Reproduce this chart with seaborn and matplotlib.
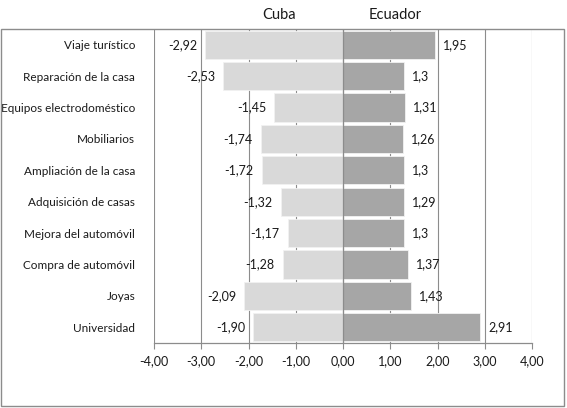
import pandas as pd
import seaborn as sns
import matplotlib.pyplot as plt
from matplotlib.patches import Rectangle

# Data
categorias = [
    "Viaje turístico",
    "Reparación de la casa",
    "Equipos electrodoméstico",
    "Mobiliarios",
    "Ampliación de la casa",
    "Adquisición de casas",
    "Mejora del automóvil",
    "Compra de automóvil",
    "Joyas",
    "Universidad",
]
cuba = [-2.92, -2.53, -1.45, -1.74, -1.72, -1.32, -1.17, -1.28, -2.09, -1.90]
ecuador = [1.95, 1.3, 1.31, 1.26, 1.3, 1.29, 1.3, 1.37, 1.43, 2.91]
ticks_x = [-4, -3, -2, -1, 0, 1, 2, 3, 4]

df = pd.DataFrame({
    "categoria": categorias * 2,
    "valor": cuba + ecuador,
    "pais": ["Cuba"] * len(cuba) + ["Ecuador"] * len(ecuador),
})

sns.set_style("white")
plt.rcParams["font.family"] = ["Lato", "DejaVu Sans"]
plt.rcParams["text.color"] = "#1a1a1a"

fig = plt.figure(figsize=(5.67, 4.08), dpi=100)
ax = fig.add_axes([154 / 567, 65 / 408, 378 / 567, 314 / 408])

sns.barplot(data=df, x="valor", y="categoria", hue="pais", dodge=False,
            palette={"Cuba": "#d9d9d9", "Ecuador": "#a6a6a6"},
            width=0.9, edgecolor="#f2f2f2", linewidth=0.6,
            order=categorias, legend=False, ax=ax, zorder=2)

ax.set_xlim(-4, 4)
ax.set_ylim(9.5, -0.5)
ax.set_xticks(ticks_x)
ax.set_xticklabels([f"{t:.2f}".replace(".", ",") for t in ticks_x])
ax.grid(axis="x", color="#8c8c8c", linewidth=0.8)
ax.set_axisbelow(True)
ax.axvline(0, color="#8c8c8c", linewidth=0.9, zorder=3)
ax.set_xlabel("")
ax.set_ylabel("")

for s in ["top", "right", "left"]:
    ax.spines[s].set_visible(False)
ax.spines["bottom"].set_color("#8c8c8c")
ax.spines["bottom"].set_linewidth(0.9)
ax.tick_params(axis="x", bottom=True, length=4, width=0.8, color="#8c8c8c",
               labelsize=9, pad=5, labelcolor="#1a1a1a")
ax.tick_params(axis="y", left=False, labelsize=8.5, pad=10, labelcolor="#1a1a1a")

# value labels
for i, v in enumerate(cuba):
    ax.annotate(f"{v:.2f}".replace(".", ","), (v, i), xytext=(-8, 0),
                textcoords="offset pixels", ha="right", va="center", fontsize=9)
for i, v in enumerate(ecuador):
    ax.annotate(f"{v:g}".replace(".", ","), (v, i), xytext=(8, 0),
                textcoords="offset pixels", ha="left", va="center", fontsize=9)

# legend headings
fig.text(279 / 567, 1 - 15 / 408, "Cuba", ha="center", va="center", fontsize=10.5)
fig.text(395 / 567, 1 - 15 / 408, "Ecuador", ha="center", va="center", fontsize=10.5)

# chart border
fig.patches.append(Rectangle((1 / 567, 2 / 408), 563 / 567, 377 / 408,
                             transform=fig.transFigure, fill=False,
                             edgecolor="#8c8c8c", linewidth=1))

fig.savefig("out.png", dpi=100)
